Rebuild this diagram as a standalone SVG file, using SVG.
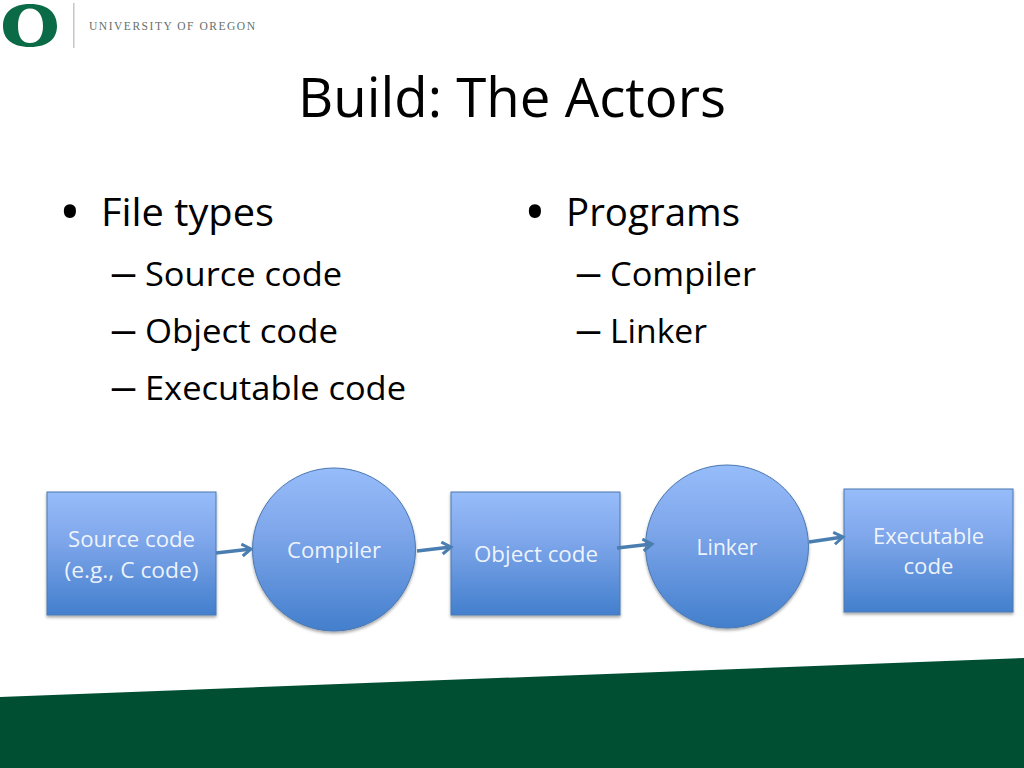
<svg xmlns="http://www.w3.org/2000/svg" width="1024" height="768" viewBox="0 0 1024 768">
<defs>
<linearGradient id="blue" x1="0" y1="0" x2="0" y2="1"><stop offset="0" stop-color="#97bcfa"/><stop offset="0.4" stop-color="#7ea6ea"/><stop offset="1" stop-color="#437fcd"/></linearGradient>
<filter id="sh" x="-10%" y="-10%" width="120%" height="120%"><feDropShadow dx="0" dy="2" stdDeviation="1.5" flood-color="#000" flood-opacity="0.35"/></filter>
<marker id="arrow" markerUnits="userSpaceOnUse" markerWidth="16" markerHeight="16" refX="12" refY="7" orient="auto"><path d="M3 1 L12 7 L3 13" fill="none" stroke="#4a7eb0" stroke-width="3"/></marker>
</defs>
<style>
text{font-family:"Open Sans","Noto Sans","Liberation Sans",sans-serif}
.t{fill:#000}
.n{fill:#fff;font-size:21px;text-anchor:middle;fill-opacity:.9}
.shape{fill:url(#blue);stroke:#4a78b0;stroke-width:1;filter:url(#sh)}
.c{stroke:#4a7eb0;stroke-width:3.500;fill:none;marker-end:url(#arrow)}
</style>
<rect width="1024" height="768" fill="#fff"/>
<g id="logo">
<path fill-rule="evenodd" fill="#0b6b46" d="M30 4 C49 4 57 14 57 26 C57 38 49 47 30 47 C11 47 3 38 3 26 C3 14 11 4 30 4 Z M30 8.500 C22 8.500 18 15 18 26 C18 37 22 43 30 43 C38 43 43 37 43 26 C43 15 38 8.500 30 8.500 Z"/>
<rect x="73" y="3" width="1.500" height="45" fill="#c4c8c6"/>
<text x="89" y="30" textLength="166" lengthAdjust="spacing" style="font-family:'Liberation Serif',serif;font-size:11.500px" fill="#66706c">UNIVERSITY OF OREGON</text>
</g>
<text class="t" x="298" y="117" textLength="428" lengthAdjust="spacingAndGlyphs" font-size="54">Build: The Actors</text>
<g id="list-left" class="t">
<text x="59" y="233" font-size="58">•</text>
<text x="101" y="226" textLength="173" lengthAdjust="spacingAndGlyphs" font-size="38">File types</text>
<text x="109.500" y="285.500" font-size="38" textLength="28" lengthAdjust="spacingAndGlyphs">–</text><text x="145" y="286" textLength="197" lengthAdjust="spacingAndGlyphs" font-size="33">Source code</text>
<text x="109.500" y="342.500" font-size="38" textLength="28" lengthAdjust="spacingAndGlyphs">–</text><text x="145" y="343" textLength="193" lengthAdjust="spacingAndGlyphs" font-size="33">Object code</text>
<text x="109.500" y="399.500" font-size="38" textLength="28" lengthAdjust="spacingAndGlyphs">–</text><text x="145" y="400" textLength="261" lengthAdjust="spacingAndGlyphs" font-size="33">Executable code</text>
</g>
<g id="list-right" class="t">
<text x="524" y="233" font-size="58">•</text>
<text x="566" y="226" textLength="174" lengthAdjust="spacingAndGlyphs" font-size="38">Programs</text>
<text x="574.500" y="285.500" font-size="38" textLength="28" lengthAdjust="spacingAndGlyphs">–</text><text x="610" y="286" textLength="146" lengthAdjust="spacingAndGlyphs" font-size="33">Compiler</text>
<text x="574.500" y="342.500" font-size="38" textLength="28" lengthAdjust="spacingAndGlyphs">–</text><text x="610" y="343" textLength="97" lengthAdjust="spacingAndGlyphs" font-size="33">Linker</text>
</g>
<g id="source"><rect class="shape" x="47" y="492" width="169" height="123"/>
<text class="n" x="131.500" y="547" textLength="127" lengthAdjust="spacingAndGlyphs">Source code</text><text class="n" x="131.500" y="578" textLength="134" lengthAdjust="spacingAndGlyphs">(e.g., C code)</text></g>
<g id="compiler"><circle class="shape" cx="334" cy="549.500" r="81.500"/><text class="n" x="334" y="558" textLength="94" lengthAdjust="spacingAndGlyphs">Compiler</text></g>
<g id="object"><rect class="shape" x="451" y="492" width="169" height="123"/><text class="n" x="536" y="562" textLength="124" lengthAdjust="spacingAndGlyphs">Object code</text></g>
<g id="linker"><circle class="shape" cx="727" cy="546.500" r="81.500"/><text class="n" x="727" y="555" textLength="61" lengthAdjust="spacingAndGlyphs">Linker</text></g>
<g id="executable"><rect class="shape" x="844" y="489" width="169" height="123"/><text class="n" x="928.500" y="544" textLength="111" lengthAdjust="spacingAndGlyphs">Executable</text><text class="n" x="928.500" y="574" textLength="50" lengthAdjust="spacingAndGlyphs">code</text></g>
<g id="connectors">
<line class="c" x1="216" y1="553" x2="251" y2="549"/>
<line class="c" x1="417" y1="551" x2="451" y2="547"/>
<line class="c" x1="617" y1="548" x2="652" y2="544"/>
<line class="c" x1="809" y1="542" x2="843" y2="537"/>
</g>
<polygon id="band" points="0,697 1024,658 1024,768 0,768" fill="#004f33"/>
</svg>
